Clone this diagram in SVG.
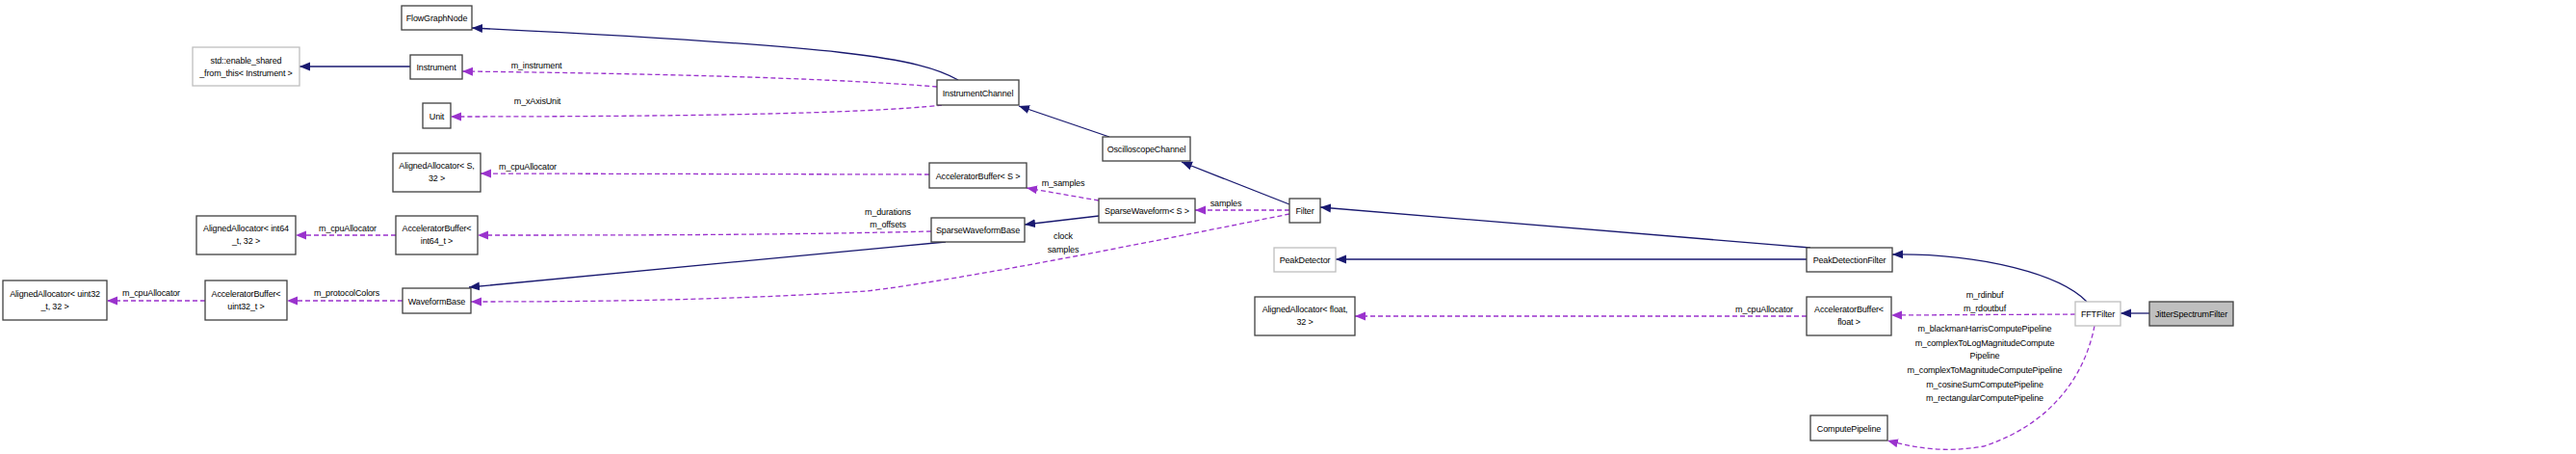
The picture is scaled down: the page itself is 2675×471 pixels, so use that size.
<svg xmlns="http://www.w3.org/2000/svg" width="2675" height="471" viewBox="0 0 2675 471">
<style>
text{font-family:"Liberation Sans",Arial,sans-serif;font-size:9px;letter-spacing:-0.15px;fill:#000;text-anchor:middle}
.n rect{fill:#fff;stroke:#404040;stroke-width:1.3}
.n.g rect{stroke:#bfbfbf}
.n.c rect{fill:#bfbfbf}
.e path{fill:none}
.i{stroke:#191970;stroke-width:1.3}
.u{stroke:#9a32cd;stroke-width:1.3;stroke-dasharray:5,3}
</style>
<defs>
<marker id="ai" markerUnits="userSpaceOnUse" markerWidth="12" markerHeight="10" refX="11" refY="5" orient="auto"><path d="M0,0.5 L11,5 L0,9.5 Z" fill="#191970"/></marker>
<marker id="au" markerUnits="userSpaceOnUse" markerWidth="12" markerHeight="10" refX="11" refY="5" orient="auto"><path d="M0,0.5 L11,5 L0,9.5 Z" fill="#9a32cd"/></marker>
</defs>
<g id="edges" class="e">
<path class="i" marker-end="url(#ai)" d="M995,83 C955,60 880,48 490,29"/>
<path class="i" marker-end="url(#ai)" d="M426,69 L311,69"/>
<path class="u" marker-end="url(#au)" d="M973,90 C850,80 650,76 480,74"/>
<path class="u" marker-end="url(#au)" d="M978,109 C900,118 700,121 468,121"/>
<path class="i" marker-end="url(#ai)" d="M1152,142 L1058,110"/>
<path class="i" marker-end="url(#ai)" d="M1339,212 L1227,168"/>
<path class="i" marker-end="url(#ai)" d="M1880,257 L1371,215"/>
<path class="i" marker-end="url(#ai)" d="M1876,269 L1387,269"/>
<path class="i" marker-end="url(#ai)" d="M2167,313 C2140,285 2060,263 1965,264"/>
<path class="i" marker-end="url(#ai)" d="M2232,325 L2202,325"/>
<path class="u" marker-end="url(#au)" d="M2155,326 L1964,327"/>
<path class="u" marker-end="url(#au)" d="M2175,338 C2165,390 2130,440 2060,463 C2020,470 1990,465 1960,457"/>
<path class="u" marker-end="url(#au)" d="M1876,328 L1407,328"/>
<path class="u" marker-end="url(#au)" d="M1339,218 L1241,218"/>
<path class="u" marker-end="url(#au)" d="M1339,222 C1200,250 1000,290 900,302 C750,312 600,313 489,313"/>
<path class="u" marker-end="url(#au)" d="M1141,208 L1066,195"/>
<path class="i" marker-end="url(#ai)" d="M1141,224 L1064,233"/>
<path class="i" marker-end="url(#ai)" d="M982,251 L487,298"/>
<path class="u" marker-end="url(#au)" d="M967,240 C800,244 650,244 496,244"/>
<path class="u" marker-end="url(#au)" d="M965,181 L499,180"/>
<path class="u" marker-end="url(#au)" d="M411,244 L307,244"/>
<path class="u" marker-end="url(#au)" d="M418,312 L298,312"/>
<path class="u" marker-end="url(#au)" d="M213,312 L111,312"/>
<text x="557" y="71">m_instrument</text>
<text x="558" y="108">m_xAxisUnit</text>
<text x="2061" y="309">m_rdinbuf</text>
<text x="2061" y="323">m_rdoutbuf</text>
<text x="2061" y="344">m_blackmanHarrisComputePipeline</text>
<text x="2061" y="359">m_complexToLogMagnitudeCompute</text>
<text x="2061" y="372">Pipeline</text>
<text x="2061" y="387">m_complexToMagnitudeComputePipeline</text>
<text x="2061" y="402">m_cosineSumComputePipeline</text>
<text x="2061" y="416">m_rectangularComputePipeline</text>
<text x="1832" y="324">m_cpuAllocator</text>
<text x="1273" y="214">samples</text>
<text x="1104" y="248">clock</text>
<text x="1104" y="262">samples</text>
<text x="1104" y="193">m_samples</text>
<text x="922" y="223">m_durations</text>
<text x="922" y="236">m_offsets</text>
<text x="548" y="176">m_cpuAllocator</text>
<text x="361" y="240">m_cpuAllocator</text>
<text x="360" y="307">m_protocolColors</text>
<text x="157" y="307">m_cpuAllocator</text>
</g>
<g id="FlowGraphNode" class="n"><rect x="417" y="6" width="73" height="25"/><text x="453.5" y="22">FlowGraphNode</text></g>
<g id="enable_shared" class="n g"><rect x="200" y="49" width="111" height="40"/><text x="255.5" y="66">std::enable_shared</text><text x="255.5" y="79">_from_this&lt; Instrument &gt;</text></g>
<g id="Instrument" class="n"><rect x="426" y="57" width="54" height="25"/><text x="453" y="73">Instrument</text></g>
<g id="Unit" class="n"><rect x="439" y="107" width="29" height="26"/><text x="453.5" y="124">Unit</text></g>
<g id="AlignedAllocatorS" class="n"><rect x="408" y="159" width="91" height="40"/><text x="453.5" y="175">AlignedAllocator&lt; S,</text><text x="453.5" y="188">32 &gt;</text></g>
<g id="AlignedAllocatorInt64" class="n"><rect x="204" y="224" width="103" height="40"/><text x="255.5" y="240">AlignedAllocator&lt; int64</text><text x="255.5" y="253">_t, 32 &gt;</text></g>
<g id="AcceleratorBufferInt64" class="n"><rect x="411" y="224" width="85" height="40"/><text x="453.5" y="240">AcceleratorBuffer&lt;</text><text x="453.5" y="253">int64_t &gt;</text></g>
<g id="AlignedAllocatorUint32" class="n"><rect x="3" y="291" width="108" height="41"/><text x="57" y="308">AlignedAllocator&lt; uint32</text><text x="57" y="321">_t, 32 &gt;</text></g>
<g id="AcceleratorBufferUint32" class="n"><rect x="213" y="291" width="85" height="41"/><text x="255.5" y="308">AcceleratorBuffer&lt;</text><text x="255.5" y="321">uint32_t &gt;</text></g>
<g id="WaveformBase" class="n"><rect x="418" y="299" width="71" height="26"/><text x="453.5" y="316">WaveformBase</text></g>
<g id="InstrumentChannel" class="n"><rect x="973" y="83" width="85" height="26"/><text x="1015.5" y="100">InstrumentChannel</text></g>
<g id="OscilloscopeChannel" class="n"><rect x="1145" y="142" width="91" height="25"/><text x="1190.5" y="158">OscilloscopeChannel</text></g>
<g id="AcceleratorBufferS" class="n"><rect x="965" y="169" width="101" height="26"/><text x="1015.5" y="186">AcceleratorBuffer&lt; S &gt;</text></g>
<g id="SparseWaveformS" class="n"><rect x="1141" y="206" width="100" height="25"/><text x="1191" y="222">SparseWaveform&lt; S &gt;</text></g>
<g id="Filter" class="n"><rect x="1339" y="206" width="32" height="25"/><text x="1355" y="222">Filter</text></g>
<g id="SparseWaveformBase" class="n"><rect x="967" y="226" width="97" height="25"/><text x="1015.5" y="242">SparseWaveformBase</text></g>
<g id="PeakDetector" class="n g"><rect x="1323" y="257" width="64" height="25"/><text x="1355" y="273">PeakDetector</text></g>
<g id="AlignedAllocatorFloat" class="n"><rect x="1303" y="308" width="104" height="40"/><text x="1355" y="324">AlignedAllocator&lt; float,</text><text x="1355" y="337">32 &gt;</text></g>
<g id="PeakDetectionFilter" class="n"><rect x="1876" y="257" width="89" height="25"/><text x="1920.5" y="273">PeakDetectionFilter</text></g>
<g id="AcceleratorBufferFloat" class="n"><rect x="1876" y="308" width="88" height="40"/><text x="1920" y="324">AcceleratorBuffer&lt;</text><text x="1920" y="337">float &gt;</text></g>
<g id="FFTFilter" class="n g"><rect x="2155" y="313" width="47" height="25"/><text x="2178.5" y="329">FFTFilter</text></g>
<g id="JitterSpectrumFilter" class="n c"><rect x="2232" y="313" width="87" height="25"/><text x="2275.5" y="329">JitterSpectrumFilter</text></g>
<g id="ComputePipeline" class="n"><rect x="1880" y="431" width="80" height="26"/><text x="1920" y="448">ComputePipeline</text></g>
</svg>
